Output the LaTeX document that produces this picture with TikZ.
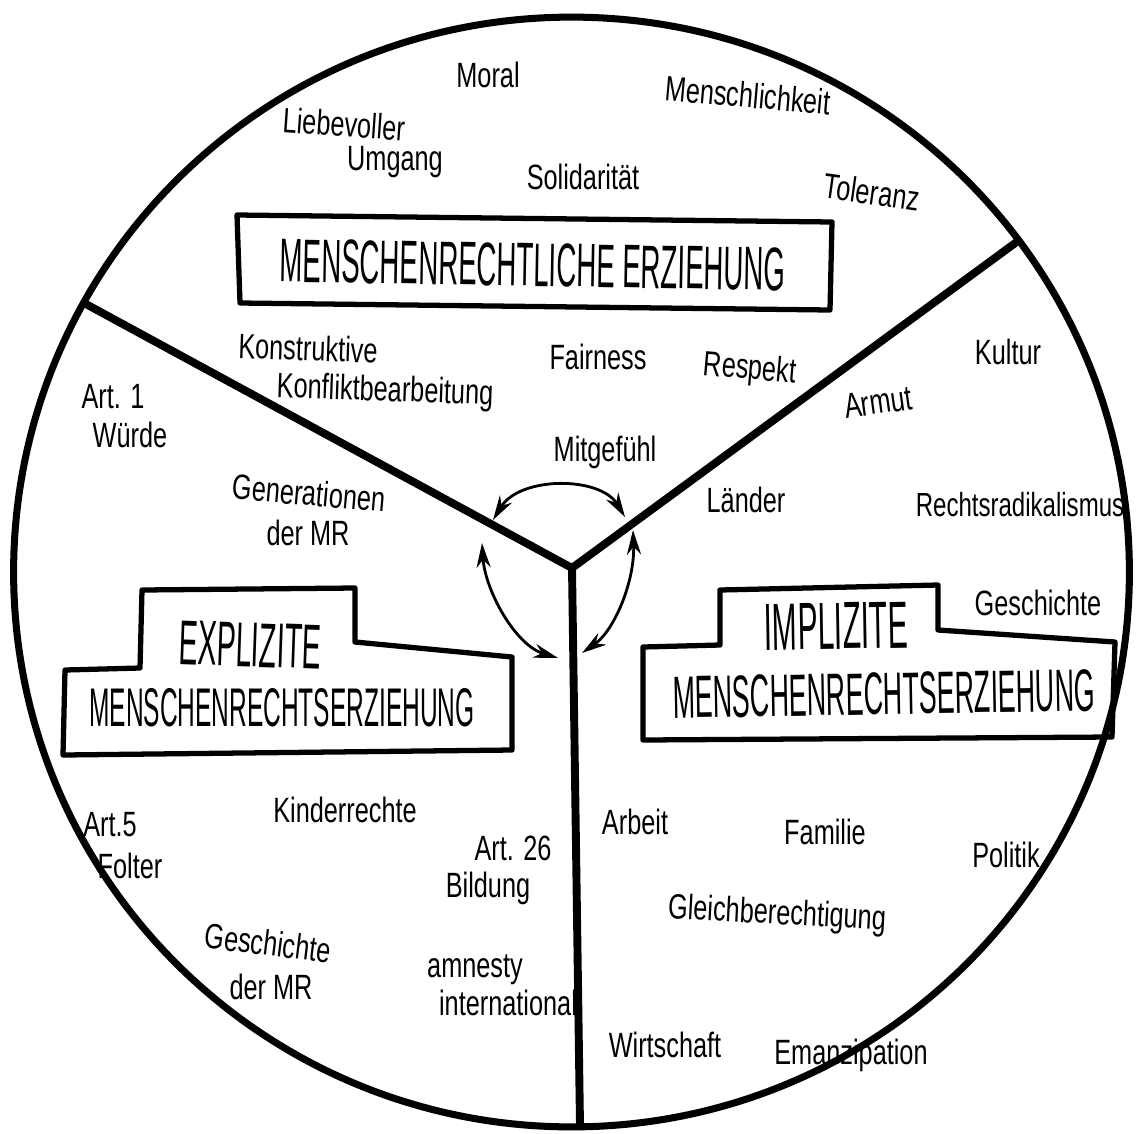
\documentclass[tikz,border=0pt]{standalone}
\usepackage{fontspec}
\usetikzlibrary{arrows.meta}
\newfontfamily\handfont[FakeStretch=0.72]{Liberation Sans}
\newfontfamily\capsfont[FakeStretch=0.45]{Liberation Sans}
\begin{document}
\begin{tikzpicture}[x=0.02cm,y=-0.02cm,
  lbl/.style={font=\handfont\fontsize{20}{22}\selectfont, inner sep=0pt},
  ttl/.style={inner sep=0pt},
  frame/.style={line width=3pt, line join=round},
  divider/.style={line width=4.5pt, line cap=round, line join=round},
  rim/.style={line width=4pt},
  link/.style={line width=1.6pt, {Stealth[length=14pt,width=8pt]}-{Stealth[length=14pt,width=8pt]}}
]
\useasboundingbox (0,0) rectangle (1139,1133);
% rim
\draw[rim] (571.5,572) ellipse [x radius=11.16cm, y radius=11.1cm];
% dividers
\coordinate (hub) at (572,568);
\coordinate (endL) at (84,303);
\coordinate (endR) at (1018,241);
\coordinate (endB) at (580,1125);
\draw[divider] (endL) -- (hub) -- (endR);
\draw[divider] (hub) -- (endB);
% arrows
\coordinate (a1) at (493,520);
\coordinate (a2) at (625,517);
\coordinate (b1) at (482,543);
\coordinate (b2) at (558,658);
\coordinate (c1) at (633,530);
\coordinate (c2) at (582,653);
\draw[link] (a1) .. controls (520,476) and (600,476) .. (a2);
\draw[link] (b1) .. controls (485,590) and (515,645) .. (b2);
\draw[link] (c1) .. controls (635,580) and (615,630) .. (c2);
% boxes
\draw[frame] (237,215) -- (832,222) -- (830,310) -- (240,303) -- cycle;
\draw[frame] (65,670) -- (140,668) -- (142,590) -- (355,588) -- (355,642) -- (512,657) -- (512,750) -- (63,755) -- cycle;
\draw[frame] (643,647) -- (720,645) -- (720,590) -- (938,585) -- (938,630) -- (1115,642) -- (1112,737) -- (643,740) -- cycle;
% titles
\node[ttl, font=\capsfont\fontsize{35}{36}\selectfont, rotate=-1] (t1) at (533,265) {MENSCHENRECHTLICHE ERZIEHUNG};
\node[ttl, font=\capsfont\fontsize{36}{36}\selectfont, rotate=-2] (t2a) at (250,645) {EXPLIZITE};
\node[ttl, font=\capsfont\fontsize{31}{32}\selectfont] (t2b) at (282,708) {MENSCHENRECHTSERZIEHUNG};
\node[ttl, font=\capsfont\fontsize{38}{38}\selectfont, rotate=1] (t3a) at (836,626) {IMPLIZITE};
\node[ttl, font=\capsfont\fontsize{34}{34}\selectfont, rotate=1] (t3b) at (884,694) {MENSCHENRECHTSERZIEHUNG};
% top sector labels
\node[lbl] (moral) at (488,75) {Moral};
\node[lbl, rotate=-5] (mensch) at (748,95) {Menschlichkeit};
\node[lbl, rotate=-4] (liebe1) at (344,124) {Liebevoller};
\node[lbl] (liebe2) at (395,162) {Umgang};
\node[lbl] (soli) at (583,177) {Solidarität};
\node[lbl, rotate=-8] (tol) at (872,192) {Toleranz};
\node[lbl, rotate=-2] (konst1) at (308,348) {Konstruktive};
\node[lbl, rotate=-2] (konst2) at (385,392) {Konfliktbearbeitung};
\node[lbl] (fair) at (598,357) {Fairness};
\node[lbl, rotate=-5] (resp) at (750,370) {Respekt};
\node[lbl] (mitg) at (605,452) {Mitgefühl};
% left sector labels
\node[lbl] (art1a) at (113,397) {Art. 1};
\node[lbl] (art1b) at (130,435) {Würde};
\node[lbl, rotate=-5] (gen1) at (309,493) {Generationen};
\node[lbl] (gen2) at (308,533) {der MR};
\node[lbl] (art5a) at (110,825) {Art.5};
\node[lbl] (art5b) at (130,866) {Folter};
\node[lbl] (kind) at (345,810) {Kinderrechte};
\node[lbl] (art26a) at (513,848) {Art. 26};
\node[lbl] (art26b) at (488,888) {Bildung};
\node[lbl, rotate=-7] (gesch1) at (268,943) {Geschichte};
\node[lbl] (gesch2) at (271,987) {der MR};
\node[lbl] (amn1) at (475,970) {amnesty};
\node[lbl] (amn2) at (508,1003) {international};
% right sector labels
\node[lbl] (kult) at (1008,352) {Kultur};
\node[lbl, rotate=8] (armut) at (878,402) {Armut};
\node[lbl] (laend) at (746,500) {Länder};
\node[lbl, font=\handfont\fontsize{19}{21}\selectfont] (rechts) at (1020,505) {Rechtsradikalismus};
\node[lbl] (gesch3) at (1038,603) {Geschichte};
\node[lbl] (arb) at (635,822) {Arbeit};
\node[lbl] (fam) at (825,832) {Familie};
\node[lbl] (pol) at (1006,855) {Politik};
\node[lbl, rotate=-3] (gleich) at (777,915) {Gleichberechtigung};
\node[lbl] (wirt) at (665,1045) {Wirtschaft};
\node[lbl] (eman) at (851,1055) {Emanzipation};
\end{tikzpicture}
\end{document}
